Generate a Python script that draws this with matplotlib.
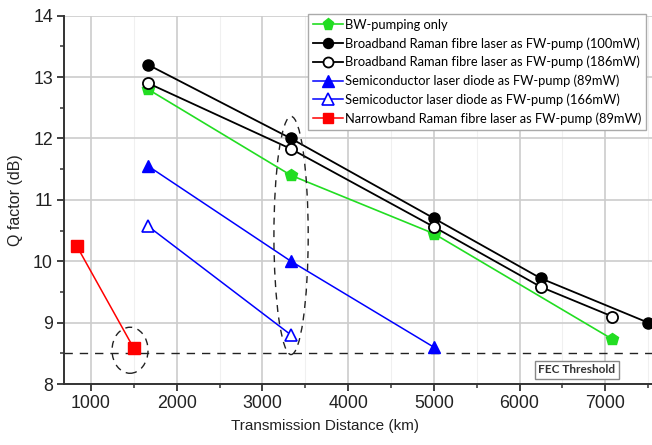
import matplotlib
matplotlib.use("Agg")
import matplotlib.pyplot as plt
from matplotlib.patches import Ellipse
from matplotlib.ticker import MultipleLocator

# Q factor vs transmission distance for the different FW-pump schemes
bw_dist = [1667, 3333, 5000, 7083]
bw_q = [12.8, 11.4, 10.45, 8.73]

brf100_dist = [1667, 3333, 5000, 6250, 7500]
brf100_q = [13.2, 12.0, 10.7, 9.72, 9.0]

brf186_dist = [1667, 3333, 5000, 6250, 7083]
brf186_q = [12.9, 11.83, 10.56, 9.58, 9.1]

sld89_dist = [1667, 3333, 5000]
sld89_q = [11.55, 10.0, 8.6]

sld166_dist = [1667, 3333]
sld166_q = [10.57, 8.8]

nrf89_dist = [833, 1500]
nrf89_q = [10.25, 8.58]

labels = [
    "BW-pumping only",
    "Broadband Raman fibre laser as FW-pump (100mW)",
    "Broadband Raman fibre laser as FW-pump (186mW)",
    "Semiconductor laser diode as FW-pump (89mW)",
    "Semicoductor laser diode as FW-pump (166mW)",
    "Narrowband Raman fibre laser as FW-pump (89mW)",
]

fec_threshold = 8.5

fig = plt.figure(figsize=(6.52, 4.45), dpi=100)
ax = fig.add_axes([0.0982, 0.137, 0.909, 0.8277])

green = "#22dd22"
ax.plot(bw_dist, bw_q, color=green, lw=1.2, marker="p", ms=9,
        mfc=green, mec=green, label=labels[0], zorder=3)
ax.plot(brf100_dist, brf100_q, color="black", lw=1.3, marker="o", ms=8,
        mfc="black", mec="black", label=labels[1], zorder=4)
ax.plot(brf186_dist, brf186_q, color="black", lw=1.3, marker="o", ms=8,
        mfc="white", mec="black", mew=1.3, label=labels[2], zorder=5)
ax.plot(sld89_dist, sld89_q, color="#0000ff", lw=1.1, marker="^", ms=9,
        mfc="#0000ff", mec="#0000ff", label=labels[3], zorder=3)
ax.plot(sld166_dist, sld166_q, color="#0000ff", lw=1.1, marker="^", ms=9,
        mfc="white", mec="#0000ff", mew=1.2, label=labels[4], zorder=3)
ax.plot(nrf89_dist, nrf89_q, color="#ff0000", lw=1.1, marker="s", ms=8,
        mfc="#ff0000", mec="#ff0000", label=labels[5], zorder=3)

# FEC threshold
ax.axhline(fec_threshold, color="#222222", lw=1.0, ls=(0, (6, 5)), zorder=2)
ax.text(6670, 8.23, "FEC Threshold", ha="center", va="center",
        fontsize=8.5, fontweight="bold", color="#333333", family="Lato",
        bbox=dict(boxstyle="square,pad=0.3", fc="white", ec="#888888", lw=1.0))

# dashed ellipses highlighting points near the threshold
ax.add_patch(Ellipse((1455, 8.55), 420, 0.75, fill=False, ls=(0, (5, 4)),
                     ec="#222222", lw=1.0, zorder=6))
ax.add_patch(Ellipse((3334, 10.42), 400, 3.88, fill=False, ls=(0, (5, 4)),
                     ec="#222222", lw=1.0, zorder=6))

ax.set_xlim(685, 7600)
ax.set_ylim(8, 14)
ax.xaxis.set_major_locator(MultipleLocator(1000))
ax.xaxis.set_minor_locator(MultipleLocator(500))
ax.yaxis.set_major_locator(MultipleLocator(1))
ax.yaxis.set_minor_locator(MultipleLocator(0.5))

ax.grid(True, which="major", color="#cccccc", lw=1.2, zorder=0)
ax.grid(True, which="minor", axis="x", color="#f0f0f0", lw=0.8, zorder=0)
ax.set_axisbelow(True)

for side in ("top", "right"):
    ax.spines[side].set_visible(False)
for side in ("left", "bottom"):
    ax.spines[side].set_linewidth(1.4)
    ax.spines[side].set_color("#333333")

ax.tick_params(which="major", direction="out", length=5, width=1.3,
               labelsize=12.8, colors="#333333", labelcolor="#222222", pad=3)
ax.tick_params(which="minor", direction="out", length=3, width=1.1,
               colors="#333333")
for lab in ax.get_xticklabels() + ax.get_yticklabels():
    lab.set_family("Liberation Sans")

ax.set_xlabel("Transmission Distance (km)", fontsize=11,
              family="Liberation Sans", color="#222222")
ax.xaxis.set_label_coords(0.44, -0.095)
ax.set_ylabel("Q factor (dB)", fontsize=11.5, family="Liberation Sans",
              color="#222222")
ax.yaxis.set_label_coords(-0.07, 0.5)

leg = ax.legend(loc="upper right", bbox_to_anchor=(0.991, 0.969),
                bbox_transform=fig.transFigure, prop={"family": "Lato", "size": 9.3},
                frameon=True, fancybox=False, framealpha=1, edgecolor="#aaaaaa",
                handlelength=2.3, handletextpad=0.15, labelspacing=0.48,
                borderpad=0.4, borderaxespad=0, markerscale=0.9)
leg.get_frame().set_linewidth(1.0)
leg.set_zorder(10)

fig.savefig("out.png", dpi=100)
